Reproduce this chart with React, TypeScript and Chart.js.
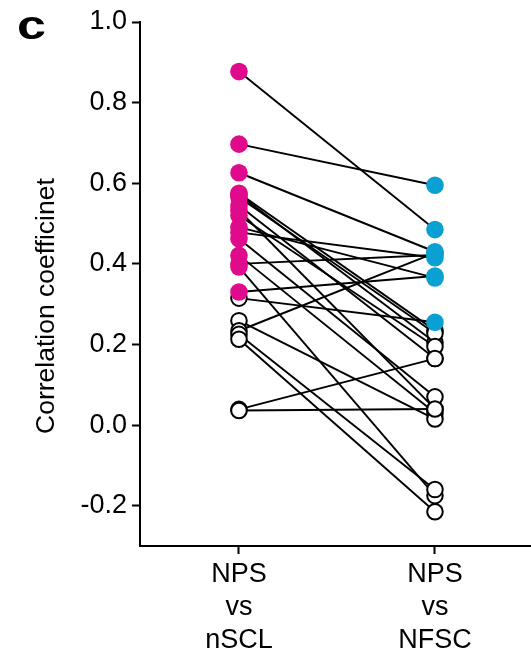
import { useEffect, useRef } from "react";
import { Chart, registerables } from "chart.js";

Chart.register(...registerables);

const categories = [
  ["NPS", "vs", "nSCL"],
  ["NPS", "vs", "NFSC"],
];
const yTicks = [-0.2, 0.0, 0.2, 0.4, 0.6, 0.8, 1.0];

// paired correlation values: left = NPS vs nSCL, right = NPS vs NFSC
const leftValues = [
  0.877, 0.697, 0.626, 0.575, 0.572, 0.565, 0.545, 0.533, 0.52, 0.491, 0.478,
  0.462, 0.421, 0.4, 0.392, 0.33, 0.315, 0.259, 0.234, 0.225, 0.213, 0.039, 0.036,
];
const rightValues = [
  0.485, 0.595, 0.43, 0.235, 0.205, 0.228, 0.165, 0.04, 0.195, 0.365, 0.415,
  0.07, 0.03, 0.422, -0.175, 0.37, 0.255, 0.015, 0.427, -0.16, -0.215, 0.165, 0.04,
];
const leftSignificant = [
  1, 1, 1, 1, 1, 1, 1, 1, 1, 1, 1, 1, 1, 1, 1, 1, 0, 0, 0, 0, 0, 0, 0,
];
const rightSignificant = [
  1, 1, 1, 0, 0, 0, 0, 0, 0, 1, 1, 0, 0, 1, 0, 1, 1, 0, 1, 0, 0, 0, 0,
];

const MAGENTA = "#DF0A8C";
const BLUE = "#0AA0D2";
const FONT = "'Liberation Sans', Arial, sans-serif";

export default function App() {
  const ref = useRef<HTMLCanvasElement | null>(null);

  useEffect(() => {
    if (!ref.current) return;
    const lineSets = leftValues.map((l, i) => ({
      data: [
        { x: 0, y: l },
        { x: 1, y: rightValues[i] },
      ],
      showLine: true,
      borderColor: "#000",
      borderWidth: 1.9,
      pointRadius: 0,
      order: 3,
    }));
    const white: { x: number; y: number }[] = [];
    const magenta: { x: number; y: number }[] = [];
    const blue: { x: number; y: number }[] = [];
    leftValues.forEach((v, i) => {
      (leftSignificant[i] ? magenta : white).push({ x: 0, y: v });
    });
    rightValues.forEach((v, i) => {
      (rightSignificant[i] ? blue : white).push({ x: 1, y: v });
    });
    const chart = new Chart(ref.current, {
      type: "scatter",
      data: {
        datasets: [
          ...lineSets,
          {
            data: white,
            showLine: false,
            pointRadius: 7.8,
            pointBorderWidth: 2,
            pointBackgroundColor: "#fff",
            pointBorderColor: "#000",
            order: 2,
          },
          {
            data: magenta,
            showLine: false,
            pointRadius: 8.8,
            pointBorderWidth: 0,
            pointBackgroundColor: MAGENTA,
            pointBorderColor: MAGENTA,
            order: 1,
          },
          {
            data: blue,
            showLine: false,
            pointRadius: 8.8,
            pointBorderWidth: 0,
            pointBackgroundColor: BLUE,
            pointBorderColor: BLUE,
            order: 1,
          },
        ] as any,
      },
      options: {
        animation: false,
        responsive: false,
        layout: { autoPadding: false, padding: { top: 22, right: 0, left: 0, bottom: 0 } },
        plugins: {
          legend: { display: false },
          tooltip: { enabled: false },
        },
        scales: {
          x: {
            type: "linear",
            min: -0.505,
            max: 1.49,
            afterFit: (s: any) => {
              s.height = 109;
            },
            afterBuildTicks: (s: any) => {
              s.ticks = categories.map((_, i) => ({ value: i }));
            },
            ticks: {
              color: "#000",
              font: { family: FONT, size: 27, lineHeight: 1.22 },
              padding: 4,
              maxRotation: 0,
              callback: (v: any) => categories[Number(v)] ?? "",
            },
            grid: {
              display: true,
              drawOnChartArea: false,
              drawTicks: true,
              tickLength: 8,
              tickWidth: 2,
              tickColor: "#000",
            },
            border: { display: true, color: "#000", width: 2 },
          },
          y: {
            type: "linear",
            min: -0.3,
            max: 1.0,
            afterFit: (s: any) => {
              s.width = 140;
            },
            afterBuildTicks: (s: any) => {
              s.ticks = yTicks.map((v) => ({ value: v }));
            },
            ticks: {
              color: "#000",
              font: { family: FONT, size: 27 },
              padding: 5,
              callback: (v: any) => Number(v).toFixed(1),
            },
            grid: {
              display: true,
              drawOnChartArea: false,
              drawTicks: true,
              tickLength: 8,
              tickWidth: 2,
              tickColor: "#000",
            },
            border: { display: true, color: "#000", width: 2 },
            title: {
              display: true,
              text: "Correlation coefficinet      ",
              color: "#000",
              font: { family: FONT, size: 26.5 },
              padding: { top: 31, bottom: 0 },
            },
          },
        },
      },
    });
    return () => chart.destroy();
  }, []);

  return (
    <div style={{ position: "fixed", left: 0, top: 0, width: 531, height: 655, background: "#fff" }}>
      <canvas ref={ref} width={531} height={655} style={{ display: "block" }} />
      <div
        style={{
          position: "absolute",
          left: 17,
          top: 5,
          fontFamily: FONT,
          fontWeight: "bold",
          fontSize: 40,
          lineHeight: 1,
          color: "#000",
          transform: "scaleX(1.3)",
          transformOrigin: "left top",
        }}
      >
        c
      </div>
    </div>
  );
}
